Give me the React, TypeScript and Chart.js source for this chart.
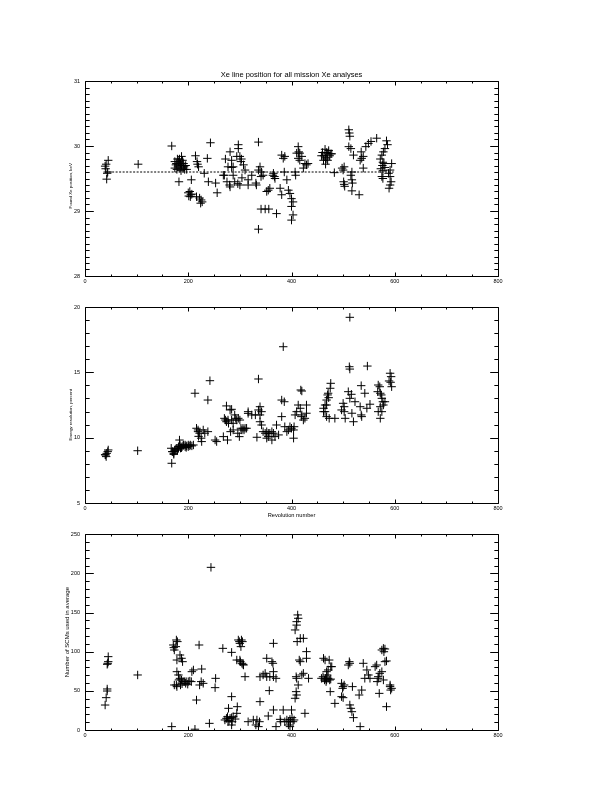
import React, { useEffect, useRef } from 'react';
import { Chart, registerables } from 'chart.js';

Chart.register(...registerables);

const FONT = "'Liberation Sans', Arial, sans-serif";

// ---------- Panel 1: fitted Xe line position ----------
const p1Rev = [
  39, 41, 45, 44, 43, 42, 40,
  103,
  168,
  174, 174, 176, 177, 178, 180, 181, 182, 183, 184, 185, 187, 187, 189, 190, 191, 192, 193, 195, 197, 186, 179,
  182, 206,
  200, 201, 203, 205, 207, 204,
  214, 217, 218, 220,
  216, 222, 225, 227, 224,
  231, 237, 239, 243, 253, 256,
  268, 270, 272, 275, 277, 280, 281, 281, 284, 284, 287, 287, 290, 294, 296, 297, 297, 300, 300, 302, 303, 304, 307, 310, 316, 316, 323, 331, 332,
  336, 336, 336, 339, 341, 342, 345,
  341, 349, 356, 371,
  352, 355, 358,
  364, 365, 367, 368,
  381, 384, 387, 386,
  378, 381, 391, 394, 397,
  400, 403, 400, 403, 400,
  407, 408,
  410, 413, 414, 416, 420, 413, 416, 423, 426, 429, 432,
  458, 460, 462, 463, 465, 466, 467, 468, 470, 470, 472, 474, 476, 478, 466,
  483,
  498, 500, 502, 501, 502, 503,
  511, 512, 513, 511, 515, 520, 517, 515, 517, 518, 517, 531,
  535, 539, 536, 533, 539,
  544, 549, 554, 565,
  584, 586, 581, 578, 575, 572, 577, 573, 576, 579, 581, 577, 594, 591, 588, 575, 577, 593, 591, 589, 591,
];
const p1Pos = [
  29.69, 29.72, 29.78, 29.6, 29.58, 29.49, 29.65,
  29.72,
  30.0,
  29.76, 29.66, 29.71, 29.73, 29.64, 29.68, 29.76, 29.71, 29.8, 29.66, 29.73, 29.84, 29.7, 29.78, 29.66, 29.73, 29.68, 29.64, 29.7, 29.64, 29.62, 29.8,
  29.45, 29.48,
  29.28, 29.23, 29.3, 29.25, 29.26, 29.22,
  29.85, 29.76, 29.72, 29.68,
  29.22, 29.2, 29.17, 29.14, 29.12,
  29.58, 29.81, 29.45, 30.05, 29.43, 29.28,
  29.55, 29.55, 29.8, 29.45, 29.68, 29.4, 29.91, 29.37, 29.78, 29.67, 29.68, 29.55, 29.45, 29.84, 29.42, 30.02, 29.96, 29.84, 29.4, 29.76, 29.8, 29.51, 29.71, 29.63, 29.48, 29.4, 29.55, 29.43, 29.4,
  30.06, 28.72, 29.63, 29.68, 29.53, 29.6, 29.55,
  29.03, 29.03, 29.03, 28.96,
  29.3, 29.32, 29.35,
  29.55, 29.58, 29.53, 29.5,
  29.86, 29.81, 29.84, 29.6,
  29.35, 29.25, 29.48, 29.32, 29.27,
  29.19, 29.14, 29.07, 28.94, 28.86,
  29.6, 29.55,
  29.89, 29.99, 29.91, 29.89, 29.84, 29.81, 29.78, 29.66, 29.73, 29.71, 29.73,
  29.85, 29.9, 29.78, 29.85, 29.95, 29.72, 29.8, 29.9, 29.88, 29.78, 29.93, 29.85, 29.88, 29.88, 29.82,
  29.59,
  29.66, 29.63, 29.68, 29.45, 29.41, 29.38,
  30.25, 30.2, 30.15, 29.99, 29.96, 29.86, 29.6, 29.55, 29.48, 29.43, 29.31, 29.25,
  29.91, 29.84, 29.81, 29.78, 29.66,
  29.99, 30.04, 30.07, 30.12,
  30.08, 30.02, 29.96, 29.91, 29.86, 29.8, 29.75, 29.65, 29.7, 29.73, 29.67, 29.62, 29.73, 29.63, 29.58, 29.53, 29.5, 29.45, 29.4, 29.35, 29.53,
];
const meanLineRev = [39, 598];
const meanLinePos = [29.6, 29.6];

// ---------- Panel 2: energy resolution ----------
const p2Rev = [
  39, 40, 41, 42, 44, 45,
  102,
  168,
  167, 169, 170, 172, 174, 174, 176, 178, 179, 181, 181, 183, 184, 184, 187, 188, 190, 191, 194, 194, 197, 200, 200, 203, 204, 207, 210, 172, 185, 196,
  213, 216, 219, 219, 220, 222, 225, 226, 229, 232, 238, 238, 242, 252, 255,
  268, 270, 272, 274, 274, 276, 277, 278, 281, 282, 284, 284, 287, 287, 290, 292, 294, 296, 297, 299, 300, 302, 304, 306, 308, 310, 313, 316, 316, 323, 330, 333,
  336, 336, 339, 339, 342, 339, 342, 345, 349, 352, 355, 358, 362, 365, 355, 352, 362, 368, 371, 375,
  381, 386, 384, 381, 387, 391, 394, 397, 400, 404, 405, 404,
  407, 410, 413, 417, 418, 420, 420, 423, 426, 429, 429, 419,
  462, 465, 465, 468, 468, 471, 472, 475, 476, 470, 468, 462, 473, 484,
  497, 500, 502, 502, 504, 510, 513, 516, 512, 513, 513, 517, 520, 523, 533, 535, 535, 536, 542, 546, 547, 552,
  567, 568, 571, 572, 574, 575, 577, 578, 572, 568, 575, 572, 581, 589, 591, 592, 593, 594,
];
const p2Res = [
  8.7, 8.67, 8.55, 8.8, 8.93, 9.06,
  9.0,
  8.04,
  9.19, 8.93, 8.93, 8.8, 9.06, 8.98, 9.13, 9.19, 9.06, 9.18, 9.31, 9.82, 9.31, 9.44, 9.23, 9.31, 9.39, 9.44, 9.31, 9.44, 9.37, 9.31, 9.44, 9.37, 9.44, 9.37, 9.44, 8.72, 9.2, 9.25,
  13.4, 10.72, 10.46, 10.59, 10.1, 10.34, 9.96, 9.7, 10.59, 10.34, 10.46, 12.88, 14.36, 9.82, 9.7,
  10.08, 11.48, 11.35, 11.22, 12.43, 9.82, 11.35, 11.1, 12.12, 10.46, 12.17, 11.35, 11.1, 10.59, 11.74, 11.48, 11.35, 10.34, 11.48, 10.08, 11.35, 10.72, 10.59, 10.72, 10.59, 10.72, 10.72, 11.99, 11.86, 11.74, 11.74, 10.03,
  14.49, 12.12, 12.37, 11.74, 11.99, 11.22, 10.97, 10.46, 10.34, 10.46, 10.34, 10.34, 10.46, 10.34, 10.08, 9.96, 9.82, 10.08, 10.97, 10.21,
  12.88, 12.75, 16.96, 11.61, 10.84, 10.46, 10.59, 10.84, 10.72, 10.59, 10.84, 9.96,
  11.74, 11.99, 12.5, 12.25, 13.65, 13.57, 11.74, 11.35, 11.48, 12.5, 11.87, 11.61,
  12.25, 12.5, 11.99, 12.88, 11.61, 13.4, 13.06, 13.78, 14.16, 13.27, 12.5, 11.99, 11.48, 11.48,
  12.12, 12.63, 11.99, 12.37, 11.48, 13.52, 13.01, 13.32, 15.43, 15.25, 19.21, 11.87, 11.22, 12.75, 12.37, 11.74, 13.98, 11.61, 13.4, 12.25, 15.48, 12.56,
  13.52, 14.03, 13.9, 13.4, 13.27, 13.01, 12.75, 12.5, 12.37, 11.99, 11.99, 11.48, 12.75, 14.34, 14.93, 14.24, 14.67, 13.9,
];

// ---------- Panel 3: number of SCMs used ----------
const p3Rev = [
  39, 41, 43, 43, 44, 45, 43, 45,
  102,
  168,
  171, 173, 172, 177, 179, 176,
  178, 187, 189, 184,
  173, 177, 178, 181, 184, 185, 187, 190, 193, 196, 200, 203, 206, 178, 188, 195, 199, 182,
  207, 210, 216, 221, 226, 229, 222, 225, 213, 241, 244, 253, 252, 267, 284, 284, 278,
  274, 271, 276, 281, 284, 287, 285, 277, 284, 291, 279,
  294, 295, 294,
  297, 299, 300, 302, 303, 305, 300, 301, 304, 306, 307,
  310, 316, 326, 333, 338, 336, 331, 339, 345, 349, 339, 352, 358, 352, 355, 357, 362, 364, 365, 365, 365, 365, 370, 370,
  378, 379, 384, 387, 391, 394, 397, 398, 400, 403, 394, 397, 401, 405,
  407, 410, 412, 413, 410, 411, 417, 415, 417, 409, 410, 410, 407, 409, 423, 429, 429, 426, 420, 423, 433, 413,
  462, 465, 458, 461, 464, 466, 468, 471, 474, 476, 469, 467, 468, 471, 473, 478, 476, 475, 484,
  497, 500, 499, 502, 497, 500, 510, 513, 512, 513, 515, 517, 520, 518, 533, 531, 536, 539, 546, 549, 542, 552,
  562, 565, 566, 568, 568, 570, 571, 575, 578, 575, 578, 581, 579, 581, 584, 584, 591, 594, 592, 591,
];
const p3Num = [
  31.9, 41.3, 52.4, 49.8, 85.2, 87.3, 83.9, 93.7,
  70.3,
  4.3,
  108.6, 102.2, 105.2, 115, 112.9, 106.5,
  89.4, 91.6, 87.3, 95.8,
  57.5, 57.5, 74.5, 70.3, 66, 57.5, 63.9, 61.8, 61.8, 61.8, 61.8, 62.5, 61.8, 55.4, 59, 59.6, 58.5, 64,
  74.5, 76.7, 38.3, 108.6, 77.9, 59.6, 57.5, 61.8, 1, 8.5, 207.8, 66, 54.1, 104.3, 99.2, 42.6, 27.7,
  14.9, 12.8, 17, 14.9, 15.8, 17, 10.6, 10.6, 6.4, 14, 12,
  21.3, 29.8, 89.4,
  115, 112.9, 110.7, 106.5, 115, 112.9, 89.4, 87.3, 85.2, 83.9, 83,
  68.1, 10.6, 12.8, 12.8, 10.6, 4.3, 6.4, 36.2, 70.3, 72.4, 68, 68, 68, 91.6, 17.9, 50.3, 87.3, 85.2, 74.5, 110.7, 25.6, 68, 66, 4.3,
  13.6, 10.6, 25.6, 10.6, 12.8, 10.6, 13.6, 10.6, 25.6, 10.6, 6.4, 4.3, 15.8, 12.8,
  127.8, 138.4, 147, 142.7, 134, 112.9, 117.1, 89.4, 87.3, 68.1, 66, 44.7, 40.5, 49, 117.1, 100.1, 91.6, 21.3, 70.3, 72.4, 66, 57.5,
  91.6, 89.4, 66, 68, 63.9, 66, 63.9, 66, 63.9, 65, 70.3, 61.8, 74.5, 76.7, 89.4, 80.9, 81, 49, 34,
  59.6, 55.4, 53.2, 57.5, 42.6, 41.3, 83, 85.2, 87.3, 32, 27.7, 23.4, 15.8, 55.4, 4.3, 44.7, 51, 85.2, 76.7, 70.3, 66, 66,
  80.9, 83, 61.8, 66, 68.1, 46.8, 72.4, 74.5, 63.9, 102.2, 104.3, 103.5, 100, 87.3, 88.2, 29.8, 57.5, 53.2, 51, 55.4,
];

const X_MIN = 0;
const X_MAX = 800;
const X_STEP = 200;

const toPoints = (xs: number[], ys: number[]) => xs.map((x, i) => ({ x, y: ys[i] }));

// IDL-style frame: box with inward ticks on all four sides
const idlFrame = {
  id: 'idlFrame',
  afterDatasetsDraw(chart: any, _args: any, opts: any) {
    const { ctx, chartArea: a } = chart;
    const xs = chart.scales.x;
    const ys = chart.scales.y;
    const L = Math.round(a.left) + 0.5;
    const R = Math.round(a.right) + 0.5;
    const T = Math.round(a.top) + 0.5;
    const B = Math.round(a.bottom) + 0.5;
    ctx.save();
    ctx.strokeStyle = '#000';
    ctx.lineWidth = 1;
    ctx.beginPath();
    ctx.rect(L, T, R - L, B - T);
    const nx = Math.round((xs.max - xs.min) / opts.xMinor);
    for (let i = 0; i <= nx; i++) {
      const p = Math.round(xs.getPixelForValue(xs.min + i * opts.xMinor)) + 0.5;
      const len = i % opts.xPer === 0 ? opts.xLen : opts.xLen / 2;
      ctx.moveTo(p, B);
      ctx.lineTo(p, B - len);
      ctx.moveTo(p, T);
      ctx.lineTo(p, T + len);
    }
    const ny = Math.round((ys.max - ys.min) / opts.yMinor);
    for (let i = 0; i <= ny; i++) {
      const p = Math.round(ys.getPixelForValue(ys.min + i * opts.yMinor)) + 0.5;
      const len = i % opts.yPer === 0 ? opts.yLen : opts.yLen / 2;
      ctx.moveTo(L, p);
      ctx.lineTo(L + len, p);
      ctx.moveTo(R, p);
      ctx.lineTo(R - len, p);
    }
    ctx.stroke();
    ctx.restore();
  },
};

type PanelProps = {
  datasets: any[];
  yMin: number;
  yMax: number;
  yStep: number;
  yMinor: number;
  yPer: number;
  yTitle: string;
  yTitleSize: number;
  yTitleX: number;
  top: number;
  xAxisHeight: number;
  bottomPad: number;
  xTitle?: string;
  title?: string;
};

function Panel(props: PanelProps) {
  const ref = useRef<HTMLCanvasElement>(null);
  useEffect(() => {
    if (!ref.current) return;
    const yLine = props.yTitleSize * 1.2;
    const titleTop = props.title ? 70.5 : 0;
    const chart = new Chart(ref.current, {
      type: 'scatter',
      data: { datasets: props.datasets },
      plugins: [idlFrame],
      options: {
        animation: false,
        responsive: false,
        devicePixelRatio: 1,
        layout: {
          padding: { top: props.title ? titleTop : props.top, left: 0, right: 612 - 498, bottom: props.bottomPad },
        },
        plugins: {
          legend: { display: false },
          tooltip: { enabled: false },
          title: props.title
            ? {
                display: true,
                text: props.title,
                fullSize: false,
                color: '#000',
                font: { family: FONT, size: 7.5, weight: 'normal', lineHeight: 1.2 },
                padding: { top: 0, bottom: 1.5 },
              }
            : { display: false },
          idlFrame: { xMinor: 50, xPer: 4, xLen: 4, yMinor: props.yMinor, yPer: props.yPer, yLen: 8.3 },
        } as any,
        scales: {
          x: {
            type: 'linear',
            min: X_MIN,
            max: X_MAX,
            afterFit: (s: any) => {
              s.height = props.xAxisHeight;
            },
            ticks: {
              stepSize: X_STEP,
              color: '#000',
              font: { family: FONT, size: 5.5 },
              padding: 2.5,
              maxRotation: 0,
              autoSkip: false,
            },
            grid: { display: false, drawTicks: false },
            border: { display: false },
            title: props.xTitle
              ? {
                  display: true,
                  text: props.xTitle,
                  color: '#000',
                  font: { family: FONT, size: 5.7, lineHeight: 1.2 },
                  padding: { top: 0, bottom: 0 },
                }
              : { display: false },
          },
          y: {
            type: 'linear',
            min: props.yMin,
            max: props.yMax,
            afterFit: (s: any) => {
              s.width = 85;
            },
            ticks: {
              stepSize: props.yStep,
              color: '#000',
              font: { family: FONT, size: 5.5 },
              padding: 5,
              autoSkip: false,
            },
            grid: { display: false, drawTicks: false },
            border: { display: false },
            title: {
              display: true,
              text: props.yTitle,
              color: '#000',
              font: { family: FONT, size: props.yTitleSize, lineHeight: 1.2 },
              padding: { top: props.yTitleX - yLine / 2, bottom: 0 },
            },
          },
        },
      } as any,
    });
    return () => chart.destroy();
  }, []);
  return (
    <canvas
      ref={ref}
      width={612}
      height={792}
      style={{ position: 'absolute', left: 0, top: 0, width: 612, height: 792 }}
    />
  );
}

const crossStyle = {
  type: 'scatter',
  pointStyle: 'cross',
  pointRadius: 4.2,
  pointBorderWidth: 1,
  borderColor: '#000',
  backgroundColor: '#000',
  showLine: false,
};

// trailing blanks keep the short rotated labels sitting a little below the panel centre, as in the original
const pad = (n: number) => ' '.repeat(n);

export default function App() {
  const ds1 = [
    {
      type: 'line',
      data: toPoints(meanLineRev, meanLinePos),
      borderColor: '#000',
      borderWidth: 1,
      borderDash: [2, 1.5],
      pointRadius: 0,
      fill: false,
    },
    { ...crossStyle, data: toPoints(p1Rev, p1Pos) },
  ];
  const ds2 = [{ ...crossStyle, data: toPoints(p2Rev, p2Res) }];
  const ds3 = [{ ...crossStyle, data: toPoints(p3Rev, p3Num) }];
  return (
    <div style={{ position: 'absolute', left: 0, top: 0, width: 612, height: 792, background: '#fff' }}>
      <Panel
        datasets={ds1}
        title="Xe line position for all mission Xe analyses"
        yMin={28}
        yMax={31}
        yStep={1}
        yMinor={0.1}
        yPer={10}
        yTitle={'Found Xe position, keV' + pad(12)}
        yTitleSize={4.4}
        yTitleX={71}
        top={81}
        xAxisHeight={792 - 276}
        bottomPad={0}
      />
      <Panel
        datasets={ds2}
        yMin={5}
        yMax={20}
        yStep={5}
        yMinor={1}
        yPer={5}
        yTitle={'Energy resolution, percent' + pad(16)}
        yTitleSize={4.4}
        yTitleX={71}
        top={307}
        xAxisHeight={16.12}
        bottomPad={272.88}
        xTitle="Revolution number"
      />
      <Panel
        datasets={ds3}
        yMin={0}
        yMax={250}
        yStep={50}
        yMinor={10}
        yPer={5}
        yTitle="Number of SCMs used in average"
        yTitleSize={6}
        yTitleX={67.7}
        top={534.3}
        xAxisHeight={62}
        bottomPad={0}
      />
    </div>
  );
}
